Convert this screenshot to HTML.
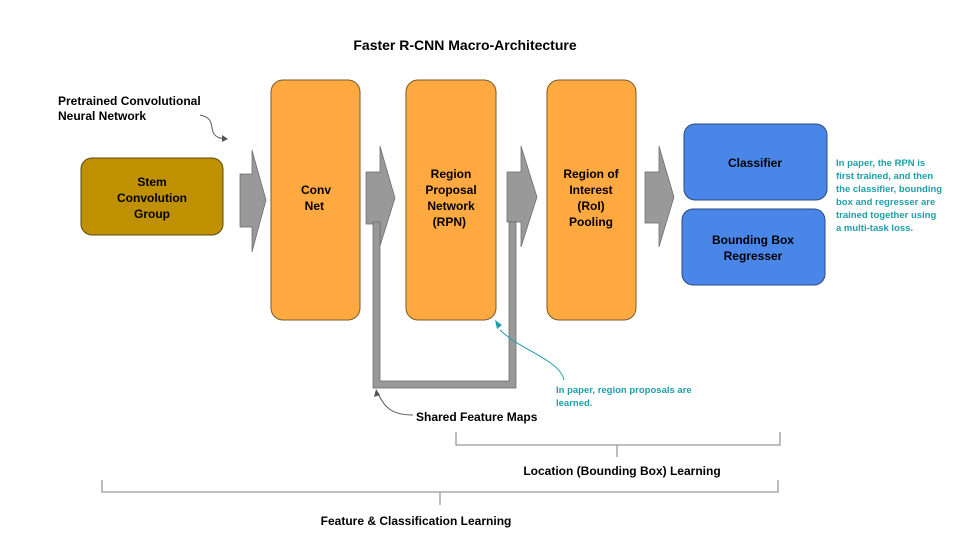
<!DOCTYPE html>
<html><head><style>
body{margin:0;background:#fff;}
svg text{font-family:"Liberation Sans",Arial,sans-serif;font-weight:bold;}
</style></head><body>
<svg width="960" height="540" viewBox="0 0 960 540" xmlns="http://www.w3.org/2000/svg">
<rect width="960" height="540" fill="#fff"/>
<text x="465" y="50" font-size="14" text-anchor="middle" fill="#000">Faster R-CNN Macro-Architecture</text>
<text font-size="12" fill="#000"><tspan x="58" y="105">Pretrained Convolutional</tspan><tspan x="58" y="120">Neural Network</tspan></text>
<path d="M200 115 C215 118,210 128,214 134 C218 139,222 138,226 139" fill="none" stroke="#555" stroke-width="1"/>
<polygon points="228,139 222,135 222,142" fill="#555"/>
<rect x="81" y="158" width="142" height="77" rx="11" fill="#bf9000" stroke="#5a4a10" stroke-width="1"/>
<text font-size="12" fill="#000" text-anchor="middle"><tspan x="152" y="186">Stem</tspan><tspan x="152" y="202">Convolution</tspan><tspan x="152" y="218">Group</tspan></text>
<g fill="#999" stroke="#666" stroke-width="0.7">
<polygon points="240,174 252,174 252,150 266,200 252,252 252,227 240,227"/>
<polygon points="366,172 380,172 380,146 395,198 380,246 380,224 366,224"/>
<polygon points="507,172 521,172 521,146 537,197 521,247 521,222 507,222"/>
<polygon points="645,172 659,172 659,146 674,197 659,247 659,223 645,223"/>
<path d="M373 222 L380 222 L380 381 L509 381 L509 222 L516 222 L516 388 L373 388 Z"/>
</g>
<g fill="#ffa940" stroke="#7a5a2a" stroke-width="1">
<rect x="271" y="80" width="89" height="240" rx="12"/>
<rect x="406" y="80" width="90" height="240" rx="12"/>
<rect x="547" y="80" width="89" height="240" rx="12"/>
</g>
<text font-size="12" fill="#000" text-anchor="middle">
<tspan x="316" y="194">Conv</tspan><tspan x="316" y="210">Net</tspan>
<tspan x="451" y="178">Region</tspan><tspan x="451" y="194">Proposal</tspan><tspan x="451" y="210">Network</tspan><tspan x="451" y="226">(RPN)</tspan>
<tspan x="591" y="178">Region of</tspan><tspan x="591" y="194">Interest</tspan><tspan x="591" y="210">(RoI)</tspan><tspan x="591" y="226">Pooling</tspan>
</text>
<g fill="#4a86e8" stroke="#2a4a80" stroke-width="1">
<rect x="684" y="124" width="143" height="76" rx="11"/>
<rect x="682" y="209" width="143" height="76" rx="11"/>
</g>
<text font-size="12" fill="#000" text-anchor="middle"><tspan x="755" y="167">Classifier</tspan><tspan x="753" y="244">Bounding Box</tspan><tspan x="753" y="260">Regresser</tspan></text>
<text font-size="9.5" fill="#1f9fa8"><tspan x="836" y="166">In paper, the RPN is</tspan><tspan x="836" y="179">first trained, and then</tspan><tspan x="836" y="192">the classifier, bounding</tspan><tspan x="836" y="205">box and regresser are</tspan><tspan x="836" y="218">trained together using</tspan><tspan x="836" y="231">a multi-task loss.</tspan></text>
<path d="M564 380 C560 360,520 350,500 330" fill="none" stroke="#1f9fa8" stroke-width="1"/>
<polygon points="495,320 497,329 502,325" fill="#1f9fa8"/>
<text font-size="9.5" fill="#1f9fa8"><tspan x="556" y="393">In paper, region proposals are</tspan><tspan x="556" y="406">learned.</tspan></text>
<path d="M413 415 C395 415,385 410,378 393" fill="none" stroke="#555" stroke-width="1"/>
<polygon points="376,389 374,397 380,395" fill="#555"/>
<text x="416" y="421" font-size="12" fill="#000">Shared Feature Maps</text>
<g fill="none" stroke="#999" stroke-width="1.3">
<path d="M456 432 L456 445 L780 445 L780 432 M617 445 L617 457"/>
<path d="M102 480 L102 492 L778 492 L778 480 M440 492 L440 505"/>
</g>
<text x="622" y="475" font-size="12" fill="#000" text-anchor="middle">Location (Bounding Box) Learning</text>
<text x="416" y="525" font-size="12" fill="#000" text-anchor="middle">Feature &amp; Classification Learning</text>
</svg>
</body></html>
